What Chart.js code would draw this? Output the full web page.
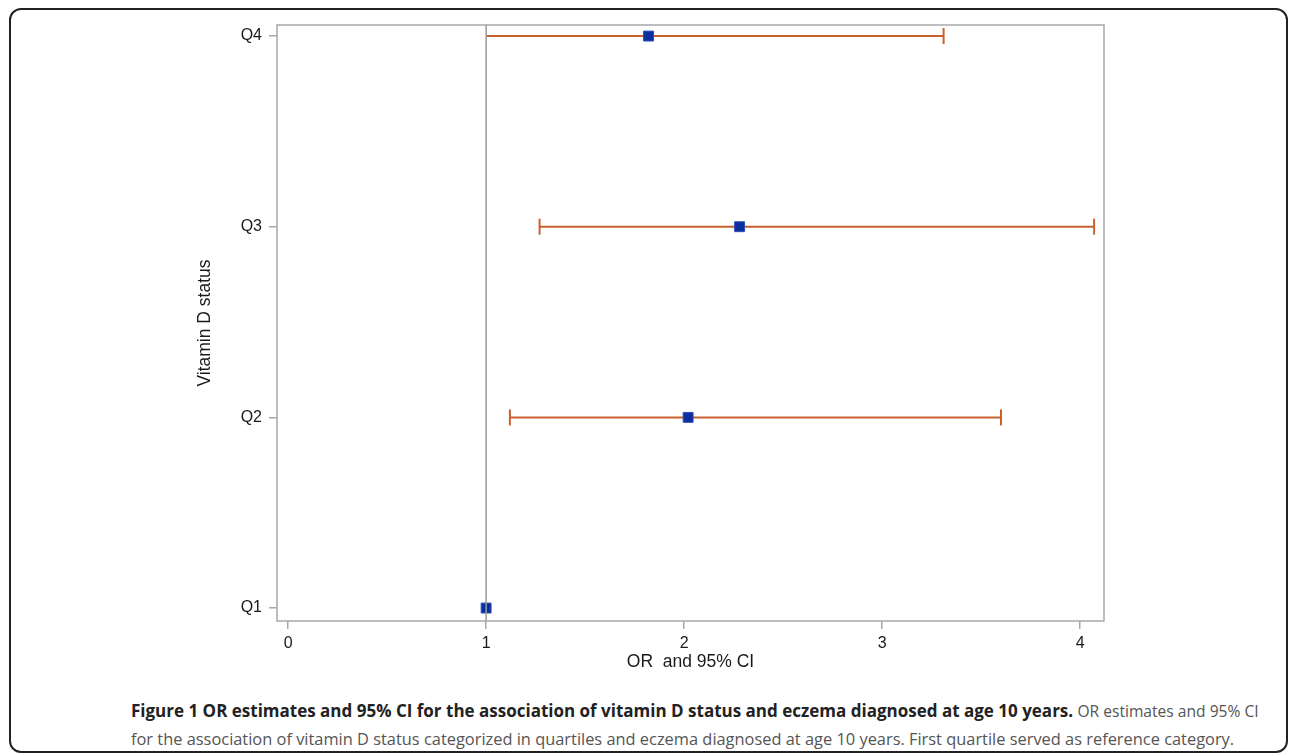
<!DOCTYPE html>
<html>
<head>
<meta charset="utf-8">
<script src="https://cdn.jsdelivr.net/npm/chart.js@4.4.1/dist/chart.umd.min.js"></script>
<style>
  body { margin: 0; background: #fff; width: 1290px; height: 756px; overflow: hidden; position: relative; }
  .frame { position: absolute; left: 9px; top: 8px; width: 1279px; height: 745px; box-sizing: border-box;
           border: 2px solid #222; border-radius: 12px; }
  #wrap { position: absolute; left: 0; top: 0; width: 1290px; height: 690px; }
  .caption { position: absolute; left: 131px; top: 697px; font-family: "Open Sans", sans-serif; font-size: 16.4px;
             line-height: 27px; color: #555; white-space: nowrap; }
  .caption b { color: #222; font-size: 17px; }
  .caption .tail { font-size: 15.6px; }
</style>
</head>
<body>
<div class="frame"></div>
<div id="wrap"><canvas id="chart"></canvas></div>
<div class="caption"><b>Figure 1 OR estimates and 95% CI for the association of vitamin D status and eczema diagnosed at age 10 years.</b> <span class="tail">OR estimates and 95% CI</span><br>for the association of vitamin D status categorized in quartiles and eczema diagnosed at age 10 years. First quartile served as reference category.</div>
<script>
// Vitamin D quartiles, bottom to top
const categories = ['Q1', 'Q2', 'Q3', 'Q4'];
const orValues = [1.0, 2.02, 2.28, 1.82];
const ciLower = [null, 1.12, 1.27, 1.0];
const ciUpper = [null, 3.60, 4.07, 3.31];
const xTicks = [0, 1, 2, 3, 4];
const refValue = 1;

const orange = '#c9612f';
const blue = '#0b2f9e';
const frameGrey = '#a8a8a8';

const ctx = document.getElementById('chart');

// one line dataset per confidence interval, with caps at the ends
const ciSets = [];
categories.forEach((cat, i) => {
  if (ciLower[i] === null) return;
  ciSets.push({
    type: 'scatter',
    showLine: true,
    data: [{x: ciLower[i], y: i + 1}, {x: ciUpper[i], y: i + 1}],
    borderColor: orange,
    borderWidth: 2,
    pointStyle: 'line',
    rotation: 90,
    pointRadius: ciLower[i] <= refValue ? [0, 8] : 8,
    pointBorderColor: orange,
    pointBorderWidth: 2,
    order: 3
  });
});

const boxPlugin = {
  id: 'box',
  beforeDatasetsDraw(chart) {
    const a = chart.chartArea;
    const c = chart.ctx;
    c.save();
    c.strokeStyle = frameGrey;
    c.lineWidth = 1.5;
    c.strokeRect(a.left, a.top, a.right - a.left, a.bottom - a.top);
    c.restore();
  }
};

const tickFont = { family: 'Liberation Sans', size: 16 };
const titleFont = { family: 'Liberation Sans', size: 17.5 };

new Chart(ctx, {
  type: 'scatter',
  data: {
    datasets: [
      {
        type: 'scatter',
        showLine: true,
        data: [{x: refValue, y: 0.93}, {x: refValue, y: 4.06}],
        borderColor: '#9a9a9a',
        borderWidth: 1.5,
        pointRadius: 0,
        order: 1
      },
      ...ciSets,
      {
        type: 'scatter',
        data: orValues.map((v, i) => ({x: v, y: i + 1})),
        pointStyle: 'rect',
        pointRadius: 7,
        backgroundColor: blue,
        borderColor: '#2a4fb8',
        borderWidth: 1,
        order: 2
      }
    ]
  },
  options: {
    responsive: true,
    maintainAspectRatio: false,
    animation: false,
    layout: { padding: { left: 191, top: 25, right: 186, bottom: 13 } },
    plugins: { legend: { display: false }, tooltip: { enabled: false } },
    scales: {
      x: {
        type: 'linear',
        min: -0.056,
        max: 4.12,
        afterBuildTicks(scale) { scale.ticks = xTicks.map(v => ({value: v})); },
        afterFit(scale) { scale.height = 56; },
        grid: { drawOnChartArea: false, drawTicks: true, tickLength: 8, color: frameGrey, lineWidth: 1.5 },
        border: { display: false },
        ticks: { padding: 5, color: '#1a1a1a', font: tickFont },
        title: { display: true, text: 'OR  and 95% CI', color: '#1a1a1a', font: titleFont, padding: 4 }
      },
      y: {
        type: 'linear',
        min: 0.932,
        max: 4.058,
        afterBuildTicks(scale) { scale.ticks = categories.map((c, i) => ({value: i + 1})); },
        afterFit(scale) { scale.width = 86; },
        grid: { drawOnChartArea: false, drawTicks: true, tickLength: 8, color: frameGrey, lineWidth: 1.5 },
        border: { display: false },
        ticks: {
          padding: 7, color: '#1a1a1a', font: tickFont,
          callback: (v) => categories[v - 1]
        },
        title: { display: true, text: 'Vitamin D status', color: '#1a1a1a', font: titleFont, padding: 4 }
      }
    }
  },
  plugins: [boxPlugin]
});
</script>
</body>
</html>
